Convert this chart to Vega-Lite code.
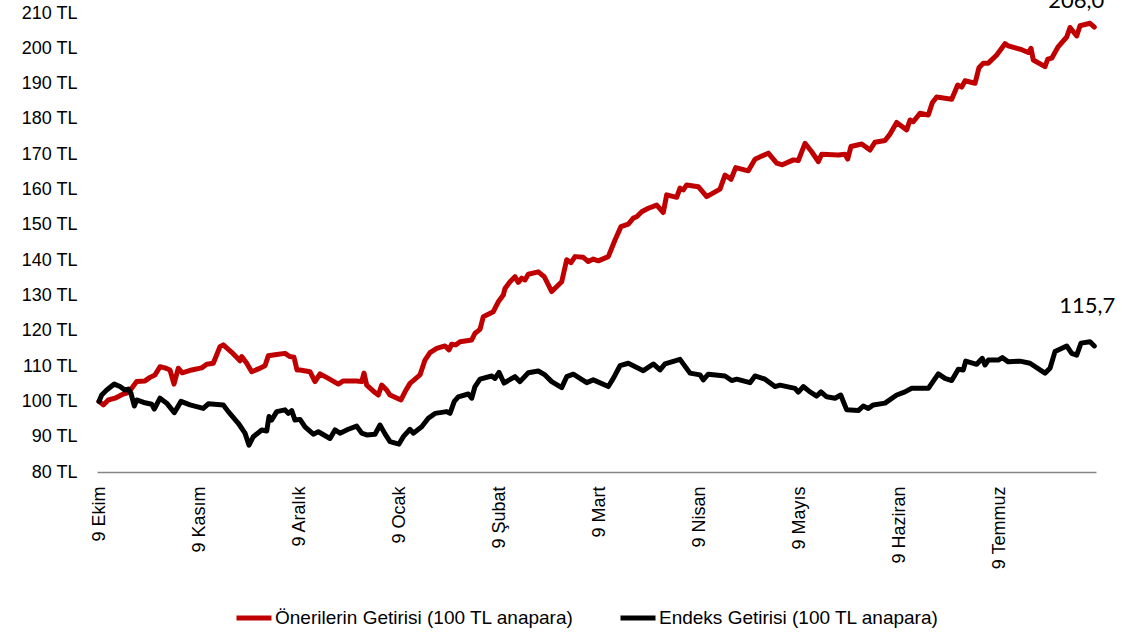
{
  "$schema": "https://vega.github.io/schema/vega-lite/v6.json",
  "width": 999,
  "height": 459,
  "autosize": {"type": "none"},
  "padding": {"left": 97, "top": 13, "right": 26, "bottom": 166},
  "background": "white",
  "config": {
    "view": {"stroke": null},
    "font": "Liberation Sans",
    "locale": {"number": {"decimal": ",", "thousands": ".", "grouping": [3], "currency": ["", " TL"]}}
  },
  "data": {
    "values": [
      {"s":"O","gun":0,"deger":100},{"s":"O","gun":0.43,"deger":99.0},{"s":"O","gun":0.93,"deger":100.4},{"s":"O","gun":1.6,"deger":100.9},{"s":"O","gun":2.43,"deger":102.1},{"s":"O","gun":2.93,"deger":102.5},{"s":"O","gun":3.27,"deger":103.7},{"s":"O","gun":3.77,"deger":105.6},{"s":"O","gun":4.6,"deger":105.8},{"s":"O","gun":5.1,"deger":106.8},{"s":"O","gun":5.6,"deger":107.5},{"s":"O","gun":6.1,"deger":109.8},{"s":"O","gun":6.6,"deger":109.5},{"s":"O","gun":7.1,"deger":108.9},{"s":"O","gun":7.5,"deger":104.9},{"s":"O","gun":7.93,"deger":109.4},{"s":"O","gun":8.33,"deger":108.1},{"s":"O","gun":9.27,"deger":108.9},{"s":"O","gun":10.27,"deger":109.5},{"s":"O","gun":10.77,"deger":110.5},{"s":"O","gun":11.43,"deger":110.8},{"s":"O","gun":12.1,"deger":115.5},{"s":"O","gun":12.43,"deger":116.0},{"s":"O","gun":13.27,"deger":113.9},{"s":"O","gun":14.1,"deger":111.5},{"s":"O","gun":14.27,"deger":112.7},{"s":"O","gun":14.77,"deger":110.8},{"s":"O","gun":15.27,"deger":108.4},{"s":"O","gun":15.93,"deger":109.2},{"s":"O","gun":16.6,"deger":110.1},{"s":"O","gun":16.93,"deger":112.9},{"s":"O","gun":17.77,"deger":113.3},{"s":"O","gun":18.6,"deger":113.6},{"s":"O","gun":19.1,"deger":112.7},{"s":"O","gun":19.5,"deger":112.5},{"s":"O","gun":19.8,"deger":108.9},{"s":"O","gun":20.1,"deger":108.9},{"s":"O","gun":21.1,"deger":108.4},{"s":"O","gun":21.6,"deger":105.6},{"s":"O","gun":22.1,"deger":107.8},{"s":"O","gun":22.93,"deger":106.5},{"s":"O","gun":23.93,"deger":104.9},{"s":"O","gun":24.43,"deger":105.8},{"s":"O","gun":25.77,"deger":105.8},{"s":"O","gun":26.27,"deger":105.6},{"s":"O","gun":26.5,"deger":108.0},{"s":"O","gun":26.77,"deger":104.6},{"s":"O","gun":27.6,"deger":102.5},{"s":"O","gun":27.93,"deger":101.8},{"s":"O","gun":28.27,"deger":104.6},{"s":"O","gun":28.77,"deger":103.2},{"s":"O","gun":29.1,"deger":101.8},{"s":"O","gun":30.2,"deger":100.4},{"s":"O","gun":30.6,"deger":102.7},{"s":"O","gun":31.1,"deger":105.1},{"s":"O","gun":32.1,"deger":107.5},{"s":"O","gun":32.6,"deger":111.7},{"s":"O","gun":33.1,"deger":113.8},{"s":"O","gun":33.77,"deger":115.0},{"s":"O","gun":34.6,"deger":115.7},{"s":"O","gun":35.0,"deger":114.6},{"s":"O","gun":35.27,"deger":116.2},{"s":"O","gun":35.67,"deger":116.0},{"s":"O","gun":36.1,"deger":116.9},{"s":"O","gun":37.27,"deger":117.4},{"s":"O","gun":37.6,"deger":119.3},{"s":"O","gun":38.1,"deger":120.4},{"s":"O","gun":38.43,"deger":124.0},{"s":"O","gun":38.93,"deger":124.7},{"s":"O","gun":39.43,"deger":125.4},{"s":"O","gun":39.93,"deger":128.2},{"s":"O","gun":40.43,"deger":130.1},{"s":"O","gun":40.6,"deger":132.0},{"s":"O","gun":41.1,"deger":133.9},{"s":"O","gun":41.6,"deger":135.3},{"s":"O","gun":41.93,"deger":133.7},{"s":"O","gun":42.27,"deger":134.9},{"s":"O","gun":42.6,"deger":134.4},{"s":"O","gun":42.93,"deger":136.0},{"s":"O","gun":43.93,"deger":136.7},{"s":"O","gun":44.53,"deger":135.3},{"s":"O","gun":45.27,"deger":131.1},{"s":"O","gun":46.27,"deger":133.9},{"s":"O","gun":46.77,"deger":140.1},{"s":"O","gun":47.2,"deger":139.3},{"s":"O","gun":47.6,"deger":141.0},{"s":"O","gun":48.43,"deger":140.8},{"s":"O","gun":48.93,"deger":139.6},{"s":"O","gun":49.43,"deger":140.3},{"s":"O","gun":49.93,"deger":139.8},{"s":"O","gun":50.93,"deger":141.0},{"s":"O","gun":51.6,"deger":145.7},{"s":"O","gun":52.2,"deger":149.5},{"s":"O","gun":52.93,"deger":150.2},{"s":"O","gun":53.43,"deger":151.9},{"s":"O","gun":53.77,"deger":152.3},{"s":"O","gun":54.27,"deger":153.7},{"s":"O","gun":54.93,"deger":154.7},{"s":"O","gun":55.77,"deger":155.6},{"s":"O","gun":56.43,"deger":153.5},{"s":"O","gun":56.77,"deger":158.5},{"s":"O","gun":57.77,"deger":157.8},{"s":"O","gun":58.1,"deger":160.4},{"s":"O","gun":58.43,"deger":159.9},{"s":"O","gun":58.77,"deger":161.3},{"s":"O","gun":59.93,"deger":160.8},{"s":"O","gun":60.77,"deger":158.0},{"s":"O","gun":62.1,"deger":160.1},{"s":"O","gun":62.6,"deger":164.1},{"s":"O","gun":63.2,"deger":162.9},{"s":"O","gun":63.67,"deger":166.2},{"s":"O","gun":64.93,"deger":165.3},{"s":"O","gun":65.6,"deger":168.6},{"s":"O","gun":66.93,"deger":170.3},{"s":"O","gun":67.77,"deger":167.5},{"s":"O","gun":68.33,"deger":167.0},{"s":"O","gun":69.43,"deger":168.4},{"s":"O","gun":69.93,"deger":168.2},{"s":"O","gun":70.6,"deger":173.1},{"s":"O","gun":71.27,"deger":170.7},{"s":"O","gun":71.93,"deger":167.9},{"s":"O","gun":72.27,"deger":170.0},{"s":"O","gun":73.93,"deger":169.8},{"s":"O","gun":74.6,"deger":170.0},{"s":"O","gun":74.87,"deger":168.6},{"s":"O","gun":75.2,"deger":172.2},{"s":"O","gun":76.27,"deger":172.9},{"s":"O","gun":77.1,"deger":171.2},{"s":"O","gun":77.6,"deger":173.4},{"s":"O","gun":78.6,"deger":173.9},{"s":"O","gun":79.1,"deger":175.7},{"s":"O","gun":79.77,"deger":179.0},{"s":"O","gun":80.1,"deger":178.3},{"s":"O","gun":80.77,"deger":176.9},{"s":"O","gun":81.1,"deger":179.7},{"s":"O","gun":81.43,"deger":179.2},{"s":"O","gun":82.1,"deger":181.6},{"s":"O","gun":82.93,"deger":181.1},{"s":"O","gun":83.33,"deger":184.6},{"s":"O","gun":83.77,"deger":186.2},{"s":"O","gun":85.27,"deger":185.6},{"s":"O","gun":85.87,"deger":189.6},{"s":"O","gun":86.27,"deger":189.0},{"s":"O","gun":86.6,"deger":190.8},{"s":"O","gun":87.6,"deger":190.1},{"s":"O","gun":88.0,"deger":194.5},{"s":"O","gun":88.43,"deger":195.8},{"s":"O","gun":88.93,"deger":195.8},{"s":"O","gun":89.77,"deger":198.1},{"s":"O","gun":90.6,"deger":201.3},{"s":"O","gun":90.93,"deger":200.7},{"s":"O","gun":92.27,"deger":199.6},{"s":"O","gun":92.93,"deger":198.8},{"s":"O","gun":93.2,"deger":200.0},{"s":"O","gun":93.43,"deger":196.7},{"s":"O","gun":94.6,"deger":194.8},{"s":"O","gun":94.87,"deger":196.9},{"s":"O","gun":95.27,"deger":197.2},{"s":"O","gun":95.93,"deger":200.5},{"s":"O","gun":96.77,"deger":203.2},{"s":"O","gun":97.1,"deger":205.9},{"s":"O","gun":97.77,"deger":203.5},{"s":"O","gun":98.1,"deger":206.4},{"s":"O","gun":99.1,"deger":207.1},{"s":"O","gun":99.53,"deger":206.0},
      {"s":"E","gun":0,"deger":100},{"s":"E","gun":0.27,"deger":101.8},{"s":"E","gun":0.77,"deger":103.2},{"s":"E","gun":1.53,"deger":104.9},{"s":"E","gun":2.1,"deger":104.2},{"s":"E","gun":2.6,"deger":103.2},{"s":"E","gun":2.93,"deger":103.5},{"s":"E","gun":3.2,"deger":102.3},{"s":"E","gun":3.53,"deger":98.7},{"s":"E","gun":3.77,"deger":100.4},{"s":"E","gun":4.6,"deger":99.6},{"s":"E","gun":5.27,"deger":99.2},{"s":"E","gun":5.53,"deger":97.8},{"s":"E","gun":6.1,"deger":100.9},{"s":"E","gun":6.77,"deger":99.5},{"s":"E","gun":7.53,"deger":96.8},{"s":"E","gun":8.2,"deger":100.0},{"s":"E","gun":9.1,"deger":99.0},{"s":"E","gun":10.43,"deger":98.0},{"s":"E","gun":10.93,"deger":99.3},{"s":"E","gun":12.43,"deger":99.0},{"s":"E","gun":12.93,"deger":97.1},{"s":"E","gun":13.93,"deger":93.8},{"s":"E","gun":14.6,"deger":91.0},{"s":"E","gun":15.0,"deger":87.6},{"s":"E","gun":15.43,"deger":90.0},{"s":"E","gun":16.27,"deger":91.9},{"s":"E","gun":16.77,"deger":91.6},{"s":"E","gun":17.0,"deger":95.7},{"s":"E","gun":17.27,"deger":94.7},{"s":"E","gun":17.77,"deger":97.1},{"s":"E","gun":18.6,"deger":97.6},{"s":"E","gun":18.93,"deger":96.6},{"s":"E","gun":19.27,"deger":97.4},{"s":"E","gun":19.6,"deger":94.7},{"s":"E","gun":20.1,"deger":94.9},{"s":"E","gun":20.6,"deger":92.8},{"s":"E","gun":21.43,"deger":90.7},{"s":"E","gun":21.93,"deger":91.4},{"s":"E","gun":23.1,"deger":89.5},{"s":"E","gun":23.6,"deger":91.9},{"s":"E","gun":24.1,"deger":91.0},{"s":"E","gun":24.93,"deger":92.1},{"s":"E","gun":25.77,"deger":93.0},{"s":"E","gun":26.27,"deger":91.0},{"s":"E","gun":26.77,"deger":90.5},{"s":"E","gun":27.6,"deger":90.7},{"s":"E","gun":28.1,"deger":93.3},{"s":"E","gun":28.6,"deger":90.8},{"s":"E","gun":29.1,"deger":88.6},{"s":"E","gun":30.0,"deger":87.9},{"s":"E","gun":30.43,"deger":90.0},{"s":"E","gun":31.1,"deger":92.1},{"s":"E","gun":31.43,"deger":91.0},{"s":"E","gun":32.27,"deger":92.8},{"s":"E","gun":32.93,"deger":95.2},{"s":"E","gun":33.6,"deger":96.6},{"s":"E","gun":34.77,"deger":97.1},{"s":"E","gun":35.1,"deger":96.6},{"s":"E","gun":35.53,"deger":100.0},{"s":"E","gun":35.93,"deger":101.3},{"s":"E","gun":36.93,"deger":102.1},{"s":"E","gun":37.27,"deger":100.9},{"s":"E","gun":37.6,"deger":104.2},{"s":"E","gun":38.1,"deger":106.3},{"s":"E","gun":39.27,"deger":107.2},{"s":"E","gun":39.6,"deger":106.5},{"s":"E","gun":40.0,"deger":108.2},{"s":"E","gun":40.5,"deger":105.2},{"s":"E","gun":41.6,"deger":107.0},{"s":"E","gun":42.1,"deger":105.6},{"s":"E","gun":42.93,"deger":108.1},{"s":"E","gun":43.93,"deger":108.6},{"s":"E","gun":44.6,"deger":107.5},{"s":"E","gun":45.27,"deger":105.6},{"s":"E","gun":46.27,"deger":103.9},{"s":"E","gun":46.77,"deger":107.0},{"s":"E","gun":47.43,"deger":107.7},{"s":"E","gun":48.77,"deger":105.3},{"s":"E","gun":49.43,"deger":106.1},{"s":"E","gun":50.93,"deger":104.2},{"s":"E","gun":51.43,"deger":106.5},{"s":"E","gun":52.1,"deger":110.1},{"s":"E","gun":52.93,"deger":110.8},{"s":"E","gun":54.43,"deger":108.7},{"s":"E","gun":55.43,"deger":110.6},{"s":"E","gun":56.1,"deger":108.9},{"s":"E","gun":56.6,"deger":110.6},{"s":"E","gun":58.1,"deger":111.9},{"s":"E","gun":59.1,"deger":108.0},{"s":"E","gun":60.1,"deger":107.5},{"s":"E","gun":60.43,"deger":106.1},{"s":"E","gun":60.93,"deger":107.7},{"s":"E","gun":62.6,"deger":107.2},{"s":"E","gun":63.27,"deger":105.9},{"s":"E","gun":63.77,"deger":106.3},{"s":"E","gun":65.1,"deger":105.3},{"s":"E","gun":65.6,"deger":107.2},{"s":"E","gun":66.6,"deger":106.3},{"s":"E","gun":67.6,"deger":104.2},{"s":"E","gun":68.1,"deger":104.6},{"s":"E","gun":69.6,"deger":103.7},{"s":"E","gun":69.93,"deger":102.6},{"s":"E","gun":70.43,"deger":104.2},{"s":"E","gun":71.1,"deger":102.7},{"s":"E","gun":71.77,"deger":101.5},{"s":"E","gun":72.2,"deger":102.7},{"s":"E","gun":72.77,"deger":101.3},{"s":"E","gun":73.6,"deger":100.9},{"s":"E","gun":74.17,"deger":101.8},{"s":"E","gun":74.77,"deger":97.6},{"s":"E","gun":75.93,"deger":97.4},{"s":"E","gun":76.43,"deger":98.7},{"s":"E","gun":76.93,"deger":98.0},{"s":"E","gun":77.43,"deger":99.0},{"s":"E","gun":78.6,"deger":99.5},{"s":"E","gun":79.77,"deger":101.8},{"s":"E","gun":80.6,"deger":102.7},{"s":"E","gun":81.27,"deger":103.7},{"s":"E","gun":82.93,"deger":103.7},{"s":"E","gun":83.93,"deger":107.8},{"s":"E","gun":84.6,"deger":106.5},{"s":"E","gun":85.27,"deger":105.9},{"s":"E","gun":85.93,"deger":109.1},{"s":"E","gun":86.43,"deger":108.9},{"s":"E","gun":86.67,"deger":111.4},{"s":"E","gun":87.77,"deger":110.5},{"s":"E","gun":88.33,"deger":112.2},{"s":"E","gun":88.6,"deger":110.3},{"s":"E","gun":88.93,"deger":111.7},{"s":"E","gun":89.93,"deger":111.7},{"s":"E","gun":90.33,"deger":112.4},{"s":"E","gun":90.93,"deger":111.2},{"s":"E","gun":92.1,"deger":111.4},{"s":"E","gun":93.1,"deger":110.8},{"s":"E","gun":94.6,"deger":108.0},{"s":"E","gun":95.1,"deger":109.4},{"s":"E","gun":95.6,"deger":114.1},{"s":"E","gun":96.77,"deger":115.7},{"s":"E","gun":97.27,"deger":113.6},{"s":"E","gun":97.77,"deger":113.1},{"s":"E","gun":98.2,"deger":116.5},{"s":"E","gun":99.1,"deger":116.9},{"s":"E","gun":99.53,"deger":115.7}
    ]
  },
  "encoding": {
    "x": {
      "field": "gun", "type": "quantitative",
      "scale": {"domain": [-0.2, 99.7], "nice": false, "zero": false},
      "axis": {
        "values": [0, 10, 20, 30, 40, 50, 60, 70, 80, 90],
        "labelExpr": "['9 Ekim','9 Kasım','9 Aralık','9 Ocak','9 Şubat','9 Mart','9 Nisan','9 Mayıs','9 Haziran','9 Temmuz'][round(datum.value/10)]",
        "labelAngle": 270, "labelPadding": 14, "ticks": false, "tickSize": 0, "grid": false,
        "domainColor": "#868686", "domainWidth": 1.5, "title": null,
        "labelFontSize": 18, "labelFont": "Liberation Sans", "labelColor": "#000000",
        "labelOverlap": false, "labelFlush": false, "labelSeparation": 0
      }
    },
    "y": {
      "field": "deger", "type": "quantitative",
      "scale": {"domain": [80, 210], "nice": false, "zero": false},
      "axis": {
        "values": [80, 90, 100, 110, 120, 130, 140, 150, 160, 170, 180, 190, 200, 210],
        "labelExpr": "datum.value + ' TL'",
        "ticks": false, "tickSize": 0, "domain": false, "grid": false, "labelPadding": 20, "title": null,
        "labelFontSize": 18, "labelFont": "Liberation Sans", "labelColor": "#000000",
        "labelOverlap": false, "labelSeparation": 0, "labelFlush": false
      }
    }
  },
  "layer": [
    {
      "mark": {"type": "line", "strokeWidth": 5, "strokeJoin": "round", "strokeCap": "round"},
      "encoding": {
        "color": {
          "field": "s", "type": "nominal",
          "scale": {"domain": ["O", "E"], "range": ["#C00000", "#000000"]},
          "legend": {
            "orient": "none", "legendX": 137, "legendY": 585, "direction": "horizontal", "title": null,
            "symbolType": "stroke", "symbolStrokeWidth": 5, "symbolSize": 1225,
            "labelFontSize": 19, "labelFont": "Liberation Sans", "labelColor": "#000000",
            "labelOffset": 1, "columnPadding": 36, "labelLimit": 500, "padding": 0,
            "labelExpr": "datum.label == 'O' ? 'Önerilerin Getirisi (100 TL anapara)' : 'Endeks Getirisi (100 TL anapara)'"
          }
        }
      }
    },
    {
      "transform": [
        {"joinaggregate": [{"op": "max", "field": "gun", "as": "son"}], "groupby": ["s"]},
        {"filter": "datum.gun == datum.son && datum.s == 'O'"}
      ],
      "mark": {"type": "text", "font": "Lato", "fontSize": 22, "dx": -18, "dy": -19, "baseline": "alphabetic", "align": "center", "color": "#000000"},
      "encoding": {
        "text": {"field": "deger", "type": "quantitative", "format": ".1f"}
      }
    },
    {
      "transform": [
        {"joinaggregate": [{"op": "max", "field": "gun", "as": "son"}], "groupby": ["s"]},
        {"filter": "datum.gun == datum.son && datum.s == 'E'"}
      ],
      "mark": {"type": "text", "font": "Lato", "fontSize": 22, "dx": -7, "dy": -33, "baseline": "alphabetic", "align": "center", "color": "#000000"},
      "encoding": {
        "text": {"field": "deger", "type": "quantitative", "format": ".1f"}
      }
    }
  ]
}
